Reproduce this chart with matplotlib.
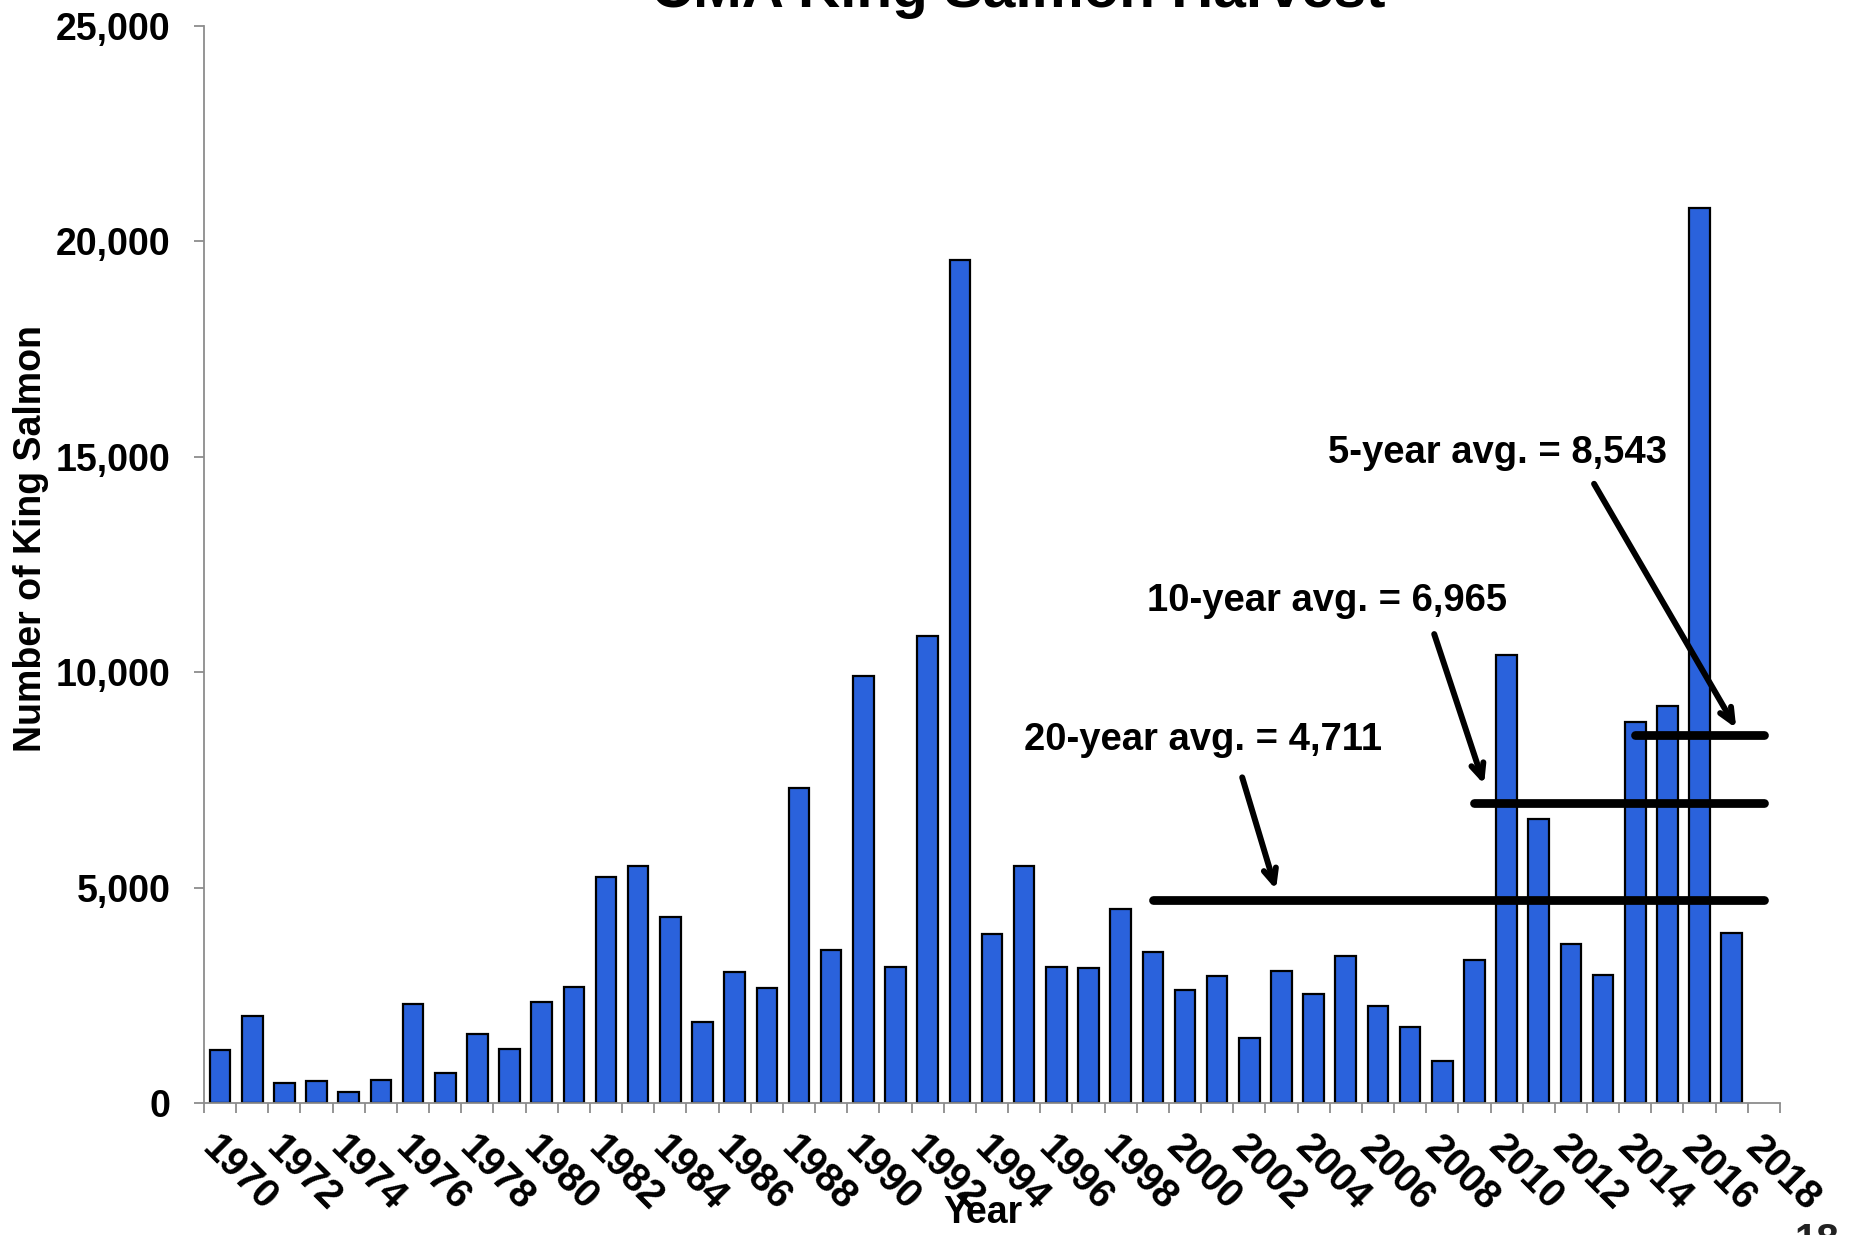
import matplotlib
matplotlib.use("Agg")
import matplotlib.pyplot as plt
import matplotlib.transforms as mtransforms
from matplotlib.ticker import FuncFormatter

plt.rcParams['font.family'] = ['Liberation Sans', 'DejaVu Sans']
plt.rcParams['font.weight'] = 'bold'

# Harvest per year (2018 has no bar)
years = list(range(1970, 2019))
harvest = [1225, 2010, 458, 519, 256, 543, 2295, 705, 1605, 1256,
           2341, 2698, 5245, 5496, 4326, 1891, 3047, 2659, 7302, 3551,
           9914, 3163, 10844, 19558, 3923, 5504, 3147, 3124, 4504, 3512,
           2612, 2938, 1512, 3070, 2519, 3411, 2256, 1767, 969, 3326,
           10388, 6591, 3682, 2961, 8853, 9216, 20767, 3946, None]

# Averages: label, value, first year of the period
avg_labels = ["20-year avg. = 4,711", "10-year avg. = 6,965", "5-year avg. = 8,543"]
avg_values = [4711, 6965, 8543]
avg_start = [1999, 2009, 2014]

title = "CMA King Salmon Harvest"
page_num = "18"

fig = plt.figure(figsize=(18.58, 12.35), dpi=100)
ax = fig.add_axes([0.1098, 0.1069, 0.958 - 0.1098, 0.979 - 0.1069])

idx = list(range(len(years)))
bar_x = [i for i, v in zip(idx, harvest) if v is not None]
bar_h = [v for v in harvest if v is not None]
ax.bar(bar_x, bar_h, width=0.64, color='#2a62dc', edgecolor='black', linewidth=1.6, zorder=2)

# average lines, from start year to the end of the axis
last = len(years) - 1
for val, start in zip(avg_values, avg_start):
    ax.plot([years.index(start), last], [val, val], color='black', lw=6.3,
            solid_capstyle='round', zorder=3)

# annotation texts + arrows (data coords)
text_pos = [(30.56, 8419), (34.42, 11651), (39.71, 15093)]
arrow_from = [(31.78, 7558), (37.75, 10884), (42.72, 14372)]
arrow_to = [(32.83, 4953), (39.30, 7395), (47.14, 8698)]
for lab, tp, af, at in zip(avg_labels, text_pos, arrow_from, arrow_to):
    ax.text(tp[0], tp[1], lab, fontsize=27.5, fontweight='bold', ha='center', va='center', zorder=4)
    ax.annotate("", xy=at, xytext=af,
                arrowprops=dict(arrowstyle='->,head_length=1.0,head_width=0.45',
                                color='black', lw=4.3, shrinkA=0, shrinkB=0), zorder=4)

ax.set_xlim(-0.5, len(years) - 0.5)
ax.set_ylim(0, 25000)

# axes styling
for s in ['top', 'right']:
    ax.spines[s].set_visible(False)
for s in ['left', 'bottom']:
    ax.spines[s].set_color('#8c8c8c')
    ax.spines[s].set_linewidth(1.3)

ax.set_yticks(range(0, 25001, 5000))
ax.yaxis.set_major_formatter(FuncFormatter(lambda v, p: f"{int(v):,}"))
ax.tick_params(axis='y', length=7.2, width=1.3, color='#8c8c8c', pad=17, labelsize=27)

ax.set_xticks(idx[::2])
ax.set_xticklabels([str(y) for y in years[::2]], rotation=-45, ha='center', va='center',
                   rotation_mode='anchor', fontsize=28.5, fontweight='bold')
ax.set_xticks([i - 0.5 for i in range(len(years) + 1)], minor=True)
ax.tick_params(axis='x', which='major', length=0, pad=0)
ax.tick_params(axis='x', which='minor', length=7.2, width=1.3, color='#8c8c8c')
offset = mtransforms.ScaledTranslation(0.19, -0.70, fig.dpi_scale_trans)
for lbl in ax.get_xticklabels():
    lbl.set_transform(lbl.get_transform() + offset)

ax.set_ylabel("Number of King Salmon", fontsize=27, fontweight='bold', va='center')
ax.yaxis.set_label_coords(-0.110, 0.524)
ax.set_xlabel("Year", fontsize=27, fontweight='bold')
ax.xaxis.set_label_coords(0.494, -0.102)
ax.xaxis.label.set_va('center')

fig.text(0.548, 0.9944, title, fontsize=42, fontweight='bold', ha='center', va='baseline')
fig.text(0.966, 0.0105, page_num, fontsize=29, ha='left', va='top', color='#222222')

fig.savefig("out.png", dpi=100)
